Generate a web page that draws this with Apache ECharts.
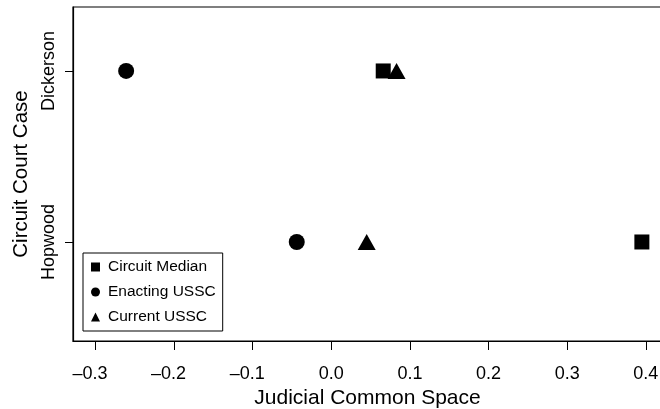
<!DOCTYPE html>
<html>
<head>
<meta charset="utf-8">
<script src="https://cdn.jsdelivr.net/npm/echarts@6/dist/echarts.min.js"></script>
<style>
  html, body { margin: 0; padding: 0; background: #fff; }
  #chart { width: 660px; height: 409px; }
</style>
</head>
<body>
<div id="chart"></div>
<script>
// Circuit court cases, placed on the y axis at 1 and 2
const cases = ['Hopwood', 'Dickerson'];
const casePositions = [1, 2];

// Judicial Common Space scores for each case (same order as cases)
const circuitMedian = [0.395, 0.066];
const enactingUSSC = [-0.044, -0.261];
const currentUSSC = [0.045, 0.083];

// Tick values for the x axis
const xTicks = [-0.3, -0.2, -0.1, 0.0, 0.1, 0.2, 0.3, 0.4];

const FONT = '"Liberation Sans", Arial, Helvetica, sans-serif';

function pairs(values) {
  return values.map((v, i) => [v, casePositions[i]]);
}

// Negative ticks: the digits stay centred on the tick and the dash hangs to the left
function fmtTick(v) {
  const s = Math.abs(v).toFixed(1);
  return v < -1e-9 ? '\u2013' + s + '{pad|}' : s;
}

const chart = echarts.init(document.getElementById('chart'), null, { renderer: 'canvas' });

chart.setOption({
  animation: false,
  backgroundColor: '#fff',
  grid: {
    left: 73, top: 7, right: -2, bottom: 68,
    show: true, borderColor: '#000', borderWidth: 1.2,
    containLabel: false,
    outerBoundsMode: 'none'
  },
  xAxis: {
    type: 'value',
    min: -0.3286, max: 0.4206,
    name: 'Judicial Common Space',
    nameLocation: 'middle',
    nameGap: 47,
    nameTextStyle: { fontFamily: FONT, fontSize: 21, color: '#000' },
    axisLine: { show: true, onZero: false, lineStyle: { color: '#000', width: 1.2 } },
    axisTick: { show: true, inside: false, length: 9, customValues: xTicks, lineStyle: { color: '#000', width: 1 } },
    axisLabel: {
      customValues: xTicks, margin: 24,
      fontFamily: FONT, fontSize: 18, color: '#000',
      formatter: fmtTick,
      rich: { pad: { width: 11 } }
    },
    splitLine: { show: false }
  },
  yAxis: {
    type: 'value',
    min: 0.421, max: 2.374,
    name: 'Circuit Court Case',
    nameLocation: 'middle',
    nameGap: 40.5,
    nameTextStyle: { fontFamily: FONT, fontSize: 20.5, color: '#000' },
    axisLine: { show: true, onZero: false, lineStyle: { color: '#000', width: 1.2 } },
    axisTick: { show: true, inside: false, length: 8, customValues: casePositions, lineStyle: { color: '#000', width: 1 } },
    axisLabel: {
      customValues: casePositions, margin: 15, rotate: 90,
      fontFamily: FONT, fontSize: 18, color: '#000',
      formatter: v => cases[casePositions.indexOf(Math.round(v))] || ''
    },
    splitLine: { show: false }
  },
  legend: {
    left: 83, top: 253,
    orient: 'vertical',
    padding: [6, 7, 6, 8],
    itemGap: 9,
    itemWidth: 9, itemHeight: 9,
    borderColor: '#000', borderWidth: 1,
    backgroundColor: '#fff',
    textStyle: { fontFamily: FONT, fontSize: 15.5, color: '#000', padding: [0, 0, 0, 3] },
    data: [
      { name: 'Circuit Median', icon: 'rect', itemStyle: { color: '#000' } },
      { name: 'Enacting USSC', icon: 'circle', itemStyle: { color: '#000' } },
      { name: 'Current USSC', icon: 'triangle', itemStyle: { color: '#000' } }
    ]
  },
  series: [
    {
      name: 'Circuit Median', type: 'scatter',
      symbol: 'rect', symbolSize: 15,
      itemStyle: { color: '#000', opacity: 1 },
      data: pairs(circuitMedian)
    },
    {
      name: 'Enacting USSC', type: 'scatter',
      symbol: 'circle', symbolSize: 16,
      itemStyle: { color: '#000', opacity: 1 },
      data: pairs(enactingUSSC)
    },
    {
      name: 'Current USSC', type: 'scatter',
      symbol: 'triangle', symbolSize: [18, 16],
      itemStyle: { color: '#000', opacity: 1 },
      data: pairs(currentUSSC)
    }
  ]
});
</script>
</body>
</html>
